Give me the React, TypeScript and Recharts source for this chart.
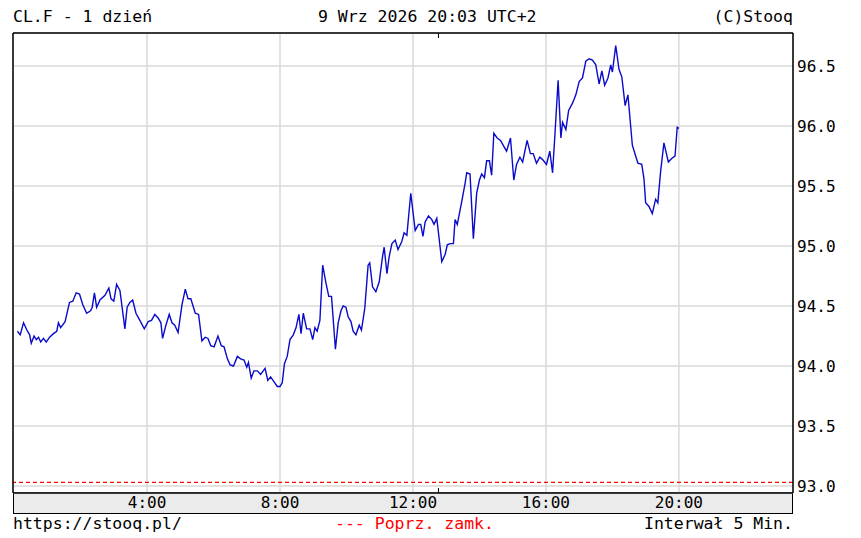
import React from 'react';
import { LineChart, Line, XAxis, YAxis, CartesianGrid, ReferenceLine } from 'recharts';

// time of day in minutes since 0:00 (5-minute bars)
const times = [
  6, 11, 17, 23, 28, 31, 36, 40, 44, 48, 53, 58, 64, 71, 77, 80, 84, 92, 100, 106,
  112, 118, 124, 131, 138, 141, 145, 149, 155, 164, 171, 175, 180, 185, 191,
  200, 204, 209, 214, 220, 227, 235, 242, 248, 254, 260, 265, 268, 274, 280, 285, 290,
  296, 303, 309, 314, 319, 327, 333, 339, 345, 350, 355, 361, 368, 374, 379, 385,
  390, 396, 403, 409, 415, 420, 423, 428, 433, 439, 445, 453, 458, 463, 469, 475, 480,
  484, 488, 493, 498, 504, 509, 514, 518, 522, 528, 534, 539, 543, 547, 552, 557, 563,
  568, 573, 580, 585,
  590, 594, 599, 603, 608, 612, 617, 623, 627, 633, 639, 642, 647, 653, 659, 665, 668,
  673, 677, 682, 688, 693, 700, 704, 709, 716, 724, 730, 734, 738, 742, 748, 754, 758,
  763, 772, 778, 782,
  787, 793, 796, 800, 808, 814, 817, 823, 829, 835, 840, 844, 849, 853, 858, 862, 866,
  872, 878, 884, 889, 896, 902, 907, 913, 918, 926, 932, 937, 943, 949, 954, 961, 967,
  972, 976, 982,
  987, 990, 996, 1001, 1008, 1014, 1020, 1026, 1032, 1038, 1044, 1050, 1056, 1061, 1066,
  1072, 1077, 1080, 1086, 1092, 1097, 1103, 1108, 1116, 1122, 1126, 1133, 1137, 1140,
  1146, 1152, 1158, 1162, 1167, 1173, 1181, 1187, 1193, 1197, 1200,
];

const prices = [
  94.29, 94.26, 94.36, 94.30, 94.26, 94.19, 94.25, 94.22, 94.24, 94.20, 94.23, 94.20, 94.24, 94.27, 94.29, 94.36, 94.32, 94.37, 94.53, 94.54,
  94.61, 94.60, 94.51, 94.44, 94.46, 94.49, 94.61, 94.49, 94.55, 94.59, 94.65, 94.56, 94.54, 94.68, 94.63,
  94.31, 94.49, 94.53, 94.55, 94.44, 94.38, 94.31, 94.37, 94.38, 94.43, 94.40, 94.36, 94.23, 94.34, 94.43, 94.36, 94.34,
  94.28, 94.51, 94.64, 94.56, 94.56, 94.44, 94.43, 94.21, 94.24, 94.23, 94.17, 94.16, 94.25, 94.17, 94.16, 94.06,
  94.01, 94.00, 94.08, 94.06, 94.05, 93.99, 94.03, 93.90, 93.96, 93.96, 93.93, 93.98, 93.88, 93.91, 93.87, 93.83, 93.83,
  93.86, 94.02, 94.08, 94.22, 94.26, 94.32, 94.43, 94.27, 94.44, 94.31, 94.31, 94.22, 94.32, 94.29, 94.38, 94.84, 94.69,
  94.58, 94.58, 94.14, 94.36,
  94.46, 94.50, 94.49, 94.41, 94.37, 94.29, 94.26, 94.34, 94.30, 94.48, 94.84, 94.86, 94.66, 94.62, 94.70, 94.91, 94.99,
  94.77, 94.91, 95.02, 95.05, 94.97, 95.04, 95.11, 95.09, 95.44, 95.13, 95.18, 95.18, 95.08, 95.20, 95.25, 95.22, 95.18,
  95.23, 94.87, 94.93, 95.01,
  95.02, 95.02, 95.22, 95.18, 95.37, 95.52, 95.61, 95.60, 95.06, 95.44, 95.55, 95.60, 95.57, 95.71, 95.71, 95.59, 95.94,
  95.90, 95.88, 95.83, 95.79, 95.90, 95.55, 95.68, 95.74, 95.70, 95.88, 95.77, 95.77, 95.69, 95.74, 95.72, 95.68, 95.79,
  95.61, 95.91, 96.38,
  95.90, 96.03, 95.97, 96.13, 96.19, 96.26, 96.37, 96.40, 96.54, 96.56, 96.55, 96.51, 96.35, 96.46, 96.34,
  96.40, 96.51, 96.45, 96.67, 96.47, 96.41, 96.17, 96.26, 95.84, 95.75, 95.69, 95.68, 95.56, 95.36,
  95.33, 95.27, 95.39, 95.36, 95.62, 95.86, 95.70, 95.73, 95.75, 95.99, 95.98,
];

const hourTicks = [240, 480, 720, 960, 1200];
const hourLabels = ['4:00', '8:00', '12:00', '16:00', '20:00'];
const minorTicks = [120, 240, 360, 480, 600, 720, 840, 960, 1080, 1200, 1320];
const priceTicks = [93.0, 93.5, 94.0, 94.5, 95.0, 95.5, 96.0, 96.5];
const prevClose = 93.03;

const titleLeft = 'CL.F - 1 dzień';
const titleCenter = '9 Wrz 2026 20:03 UTC+2';
const titleRight = '(C)Stooq';
const footLeft = 'https://stooq.pl/';
const footCenter = '--- Poprz. zamk.';
const footRight = 'Interwał 5 Min.';

const xDomain: [number, number] = [-2, 1406];
const yDomain: [number, number] = [92.942, 96.775];

const data = times.map((t, i) => ({ t, price: prices[i] }));

const FONT = '"DejaVu Sans Mono", monospace';

export default function App() {
  const txt: React.CSSProperties = {
    position: 'absolute',
    fontFamily: FONT,
    fontSize: 16.5,
    lineHeight: '20px',
    whiteSpace: 'pre',
    color: '#000',
  };
  return (
    <div
      style={{
        position: 'absolute',
        left: 0,
        top: 0,
        width: 861,
        height: 538,
        background: '#fff',
        overflow: 'hidden',
      }}
    >
      <div style={{ ...txt, left: 13, top: 7 }}>{titleLeft}</div>
      <div style={{ ...txt, left: 318, top: 7 }}>{titleCenter}</div>
      <div style={{ ...txt, right: 68, top: 7 }}>{titleRight}</div>
      <div
        style={{
          position: 'absolute',
          left: 13,
          top: 492,
          width: 780,
          height: 22,
          background: '#ebebeb',
          border: '1.5px solid #000',
          boxSizing: 'border-box',
        }}
      />
      <div style={{ ...txt, left: 13, top: 514 }}>{footLeft}</div>
      <div style={{ ...txt, left: 335, top: 514, color: '#ff0000' }}>{footCenter}</div>
      <div style={{ ...txt, right: 68, top: 514 }}>{footRight}</div>
      <div style={{ position: 'absolute', left: 0, top: 0 }}>
        <LineChart
          width={861}
          height={538}
          data={data}
          margin={{ top: 33, right: 0, bottom: 25, left: 13 }}
        >
          <CartesianGrid
            xAxisId="lab"
            yAxisId="r"
            stroke="#d9d9d9"
            strokeWidth={1.5}
          />
          <XAxis
            xAxisId="lab"
            dataKey="t"
            type="number"
            domain={xDomain}
            ticks={hourTicks}
            tickFormatter={(v: number) => hourLabels[hourTicks.indexOf(v)] ?? ''}
            axisLine={false}
            tickLine={false}
            tickSize={0}
            tickMargin={4}
            height={20}
            interval={0}
            tick={{ fill: '#000', fontSize: 16, fontFamily: FONT }}
          />
          <XAxis
            xAxisId="bot"
            type="number"
            orientation="bottom"
            mirror
            domain={xDomain}
            ticks={minorTicks}
            tickFormatter={() => ''}
            height={1}
            tickSize={5}
            interval={0}
            axisLine={{ stroke: '#000', strokeWidth: 1.5 }}
            tickLine={{ stroke: '#000', strokeWidth: 1 }}
          />
          <XAxis
            xAxisId="top"
            type="number"
            orientation="top"
            mirror
            domain={xDomain}
            ticks={minorTicks}
            tickFormatter={() => ''}
            height={1}
            tickSize={5}
            interval={0}
            axisLine={{ stroke: '#000', strokeWidth: 1.5 }}
            tickLine={{ stroke: '#000', strokeWidth: 1 }}
          />
          <YAxis
            yAxisId="r"
            orientation="right"
            type="number"
            domain={yDomain}
            ticks={priceTicks}
            tickFormatter={(v: number) => v.toFixed(1)}
            axisLine={false}
            tickLine={false}
            tickSize={0}
            tickMargin={4}
            width={68}
            interval={0}
            tick={{ fill: '#000', fontSize: 16, fontFamily: FONT, textAnchor: 'start' }}
          />
          <YAxis
            yAxisId="rm"
            orientation="right"
            mirror
            type="number"
            domain={yDomain}
            ticks={priceTicks}
            tickFormatter={() => ''}
            width={1}
            tickSize={5}
            interval={0}
            axisLine={{ stroke: '#000', strokeWidth: 1.5 }}
            tickLine={{ stroke: '#000', strokeWidth: 1 }}
          />
          <YAxis
            yAxisId="lm"
            orientation="left"
            mirror
            type="number"
            domain={yDomain}
            ticks={priceTicks}
            tickFormatter={() => ''}
            width={1}
            tickSize={4}
            interval={0}
            axisLine={{ stroke: '#000', strokeWidth: 1.5 }}
            tickLine={{ stroke: '#000', strokeWidth: 1 }}
          />
          <ReferenceLine
            xAxisId="lab"
            yAxisId="r"
            y={prevClose}
            stroke="#ff0000"
            strokeWidth={1.2}
            strokeDasharray="4 3"
          />
          <Line
            xAxisId="lab"
            yAxisId="r"
            type="linear"
            dataKey="price"
            stroke="#0a0acc"
            strokeWidth={1.4}
            dot={false}
            isAnimationActive={false}
          />
        </LineChart>
      </div>
    </div>
  );
}
